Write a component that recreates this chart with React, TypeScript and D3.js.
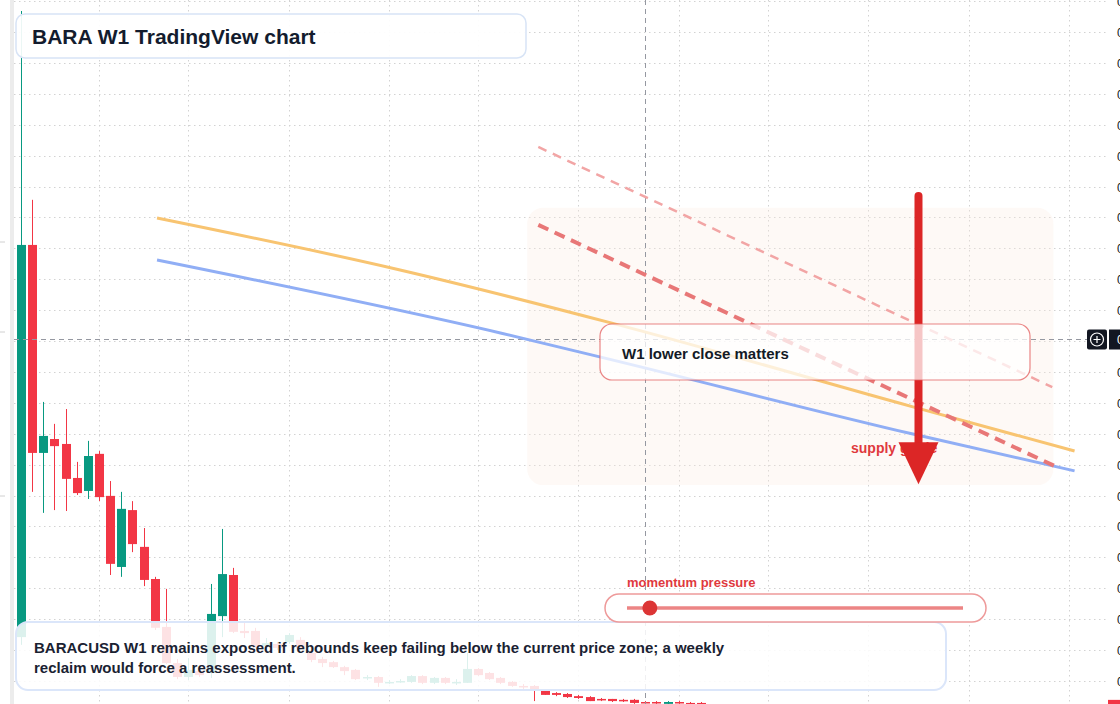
import React, { useEffect, useRef } from "react";
import * as d3 from "d3";

const W = 1120;
const H = 704;

// weekly BARACUSD candles, bar 0 is the first bar on screen
const opens = [
  0.01142, 0.02411, 0.01738, 0.01783, 0.01767, 0.01657, 0.01615, 0.01735, 0.01599, 0.01369,
  0.01553, 0.01434, 0.0133, 0.01175, 0.01058, 0.01013, 0.01032, 0.01026, 0.0121, 0.01343,
  0.01162, 0.01162, 0.01113, 0.0112, 0.01126, 0.01133, 0.01091, 0.01071, 0.01061, 0.01045,
  0.01036, 0.0101, 0.01013, 0.00994, 0.00997, 0.00997, 0.01016, 0.00994, 0.0101, 0.00994,
  0.00994, 0.01039, 0.01026, 0.0101, 0.00997, 0.00984, 0.00984, 0.00971, 0.00961, 0.00958,
  0.00951, 0.00948, 0.00942, 0.00942, 0.00939, 0.00939, 0.00932, 0.00932, 0.00926, 0.00932,
  0.00929, 0.00929,
];
const highs = [
  0.03168, 0.02557, 0.01903, 0.01832, 0.0188, 0.01709, 0.01777, 0.01744, 0.01647, 0.01612,
  0.01582, 0.01495, 0.01337, 0.01298, 0.01071, 0.01074, 0.01039, 0.01314, 0.01492, 0.01366,
  0.01188, 0.01172, 0.01139, 0.01126, 0.01155, 0.01142, 0.01097, 0.01078, 0.01065, 0.01049,
  0.01039, 0.01019, 0.01016, 0.01003, 0.01006, 0.01019, 0.01019, 0.01013, 0.01013, 0.01006,
  0.01091, 0.01042, 0.01029, 0.01013, 0.01, 0.0099, 0.00987, 0.00971, 0.00964, 0.00961,
  0.00955, 0.00951, 0.00945, 0.00942, 0.00942, 0.00942, 0.00935, 0.00935, 0.00935, 0.00935,
  0.00932, 0.00932,
];
const lows = [
  0.01117, 0.01612, 0.01544, 0.01553, 0.0155, 0.01602, 0.01589, 0.01582, 0.01343, 0.01337,
  0.01417, 0.01307, 0.01165, 0.01055, 0.01006, 0.01003, 0.01013, 0.0101, 0.01142, 0.01155,
  0.01139, 0.01107, 0.01107, 0.011, 0.0112, 0.011, 0.01061, 0.01045, 0.01042, 0.01019,
  0.01003, 0.01003, 0.00981, 0.0099, 0.00994, 0.00994, 0.0099, 0.0099, 0.0099, 0.00987,
  0.00994, 0.01016, 0.01003, 0.0099, 0.00981, 0.00971, 0.00935, 0.00955, 0.00951, 0.00945,
  0.00942, 0.00935, 0.00935, 0.00932, 0.00932, 0.00926, 0.00926, 0.00926, 0.00922, 0.00926,
  0.00922, 0.00922,
];
const closes = [
  0.02411, 0.01738, 0.01793, 0.0176, 0.01654, 0.01608, 0.01728, 0.01595, 0.01379, 0.01557,
  0.01443, 0.01327, 0.01172, 0.01058, 0.01013, 0.01036, 0.01019, 0.01217, 0.01346, 0.01159,
  0.01155, 0.01113, 0.01123, 0.01107, 0.01149, 0.01107, 0.01068, 0.01058, 0.01045, 0.01032,
  0.01006, 0.01013, 0.00994, 0.00997, 0.01, 0.01016, 0.00994, 0.0101, 0.00994, 0.00997,
  0.01039, 0.01019, 0.01006, 0.00994, 0.00984, 0.00981, 0.00971, 0.00955, 0.00955, 0.00948,
  0.00945, 0.00935, 0.00939, 0.00935, 0.00935, 0.00929, 0.00929, 0.00929, 0.00932, 0.00929,
  0.00926, 0.00926,
];

// price grid and the bars where a new (every second) month starts
const priceTicks = [
  0.009, 0.01, 0.011, 0.012, 0.013, 0.014, 0.015, 0.016, 0.017, 0.018, 0.019, 0.02,
  0.021, 0.022, 0.023, 0.024, 0.025, 0.026, 0.027, 0.028, 0.029, 0.03, 0.031, 0.032,
];
const monthTickBars = [7, 15, 24, 33, 41, 50, 59, 67, 76, 85, 94];

// projected averages (bar index -> price)
const orangeBars = [12.2, 34, 53, 80, 94.5];
const orangeVals = [0.02498, 0.0233, 0.02158, 0.01887, 0.01744];
const blueBars = [12.2, 43, 52, 80, 94.5];
const blueVals = [0.02362, 0.02126, 0.02048, 0.01799, 0.0168];

// falling resistance lines
const resistBars = [46.4, 92.7];
const resistVals = [0.02476, 0.01696];
const upperBars = [46.4, 92.5];
const upperVals = [0.02728, 0.01951];

// supply zone and the bearish arrow
const zoneBars = [45.4, 92.6];
const zoneVals = [0.02531, 0.01634];
const arrowBar = 80.5;
const arrowVals = [0.02569, 0.01637];

const crossBar = 56;
const crossPrice = 0.02107;
const momentum = 0.068;

function App() {
  const ref = useRef<SVGSVGElement>(null);

  useEffect(() => {
    const svg = d3.select(ref.current);
    svg.selectAll("*").remove();
    const font = "'Liberation Sans', Arial, Helvetica, sans-serif";

    const x = d3.scaleLinear().domain([0, 94]).range([21, 1069]);
    const y = d3.scaleLinear().domain([0.01, 0.031]).range([681, 32]);
    const bw = 9;

    svg.append("rect").attr("width", W).attr("height", H).attr("fill", "#ffffff");
    svg.append("rect").attr("x", 10).attr("y", 0).attr("width", 4).attr("height", H).attr("fill", "#ececec");
    svg.append("g").attr("stroke", "#d0d0d0")
      .selectAll("line").data([242, 332, 496]).join("line")
      .attr("x1", 0).attr("x2", 5).attr("y1", d => d).attr("y2", d => d);

    // grid
    const grid = svg.append("g").attr("stroke", "#d2d2d2").attr("stroke-dasharray", "1.5 3.5");
    grid.selectAll("line.h").data(priceTicks).join("line").attr("class", "h")
      .attr("x1", 14).attr("x2", 1107)
      .attr("y1", d => Math.round(y(d)) + 0.5).attr("y2", d => Math.round(y(d)) + 0.5);
    grid.selectAll("line.v").data(monthTickBars).join("line").attr("class", "v")
      .attr("x1", d => Math.round(x(d)) + 0.5).attr("x2", d => Math.round(x(d)) + 0.5)
      .attr("y1", 0).attr("y2", H);

    // supply zone background
    svg.append("rect")
      .attr("x", x(zoneBars[0])).attr("y", y(zoneVals[0]))
      .attr("width", x(zoneBars[1]) - x(zoneBars[0])).attr("height", y(zoneVals[1]) - y(zoneVals[0]))
      .attr("rx", 16).attr("fill", "#fbece0").attr("opacity", 0.3);

    // candles
    const candles = opens.map((o, i) => ({ i, o, h: highs[i], l: lows[i], c: closes[i] }));
    const cg = svg.append("g");
    const col = (d: any) => (d.c >= d.o ? "#089981" : "#f23645");
    cg.selectAll("line").data(candles).join("line")
      .attr("x1", d => Math.round(x(d.i)) + 0.5).attr("x2", d => Math.round(x(d.i)) + 0.5)
      .attr("y1", d => y(d.h)).attr("y2", d => y(d.l))
      .attr("stroke", col).attr("stroke-width", 1);
    cg.selectAll("rect").data(candles).join("rect")
      .attr("x", d => Math.round(x(d.i)) - 4)
      .attr("y", d => y(Math.max(d.o, d.c)))
      .attr("width", bw)
      .attr("height", d => Math.max(1.5, Math.abs(y(d.o) - y(d.c))))
      .attr("fill", col);

    // crosshair
    const ch = svg.append("g").attr("stroke", "#9598a1").attr("stroke-dasharray", "5 4").attr("stroke-width", 1);
    ch.append("line").attr("x1", Math.round(x(crossBar)) + 0.5).attr("x2", Math.round(x(crossBar)) + 0.5).attr("y1", 0).attr("y2", H);
    ch.append("line").attr("x1", 14).attr("x2", 1087).attr("y1", Math.round(y(crossPrice)) + 0.5).attr("y2", Math.round(y(crossPrice)) + 0.5);

    // averages
    const curve = (bars: number[], vals: number[]) =>
      d3.line<number>().x((_, i) => x(bars[i])).y(d => y(d)).curve(d3.curveMonotoneX)(vals);
    svg.append("path").attr("d", curve(orangeBars, orangeVals)).attr("fill", "none")
      .attr("stroke", "#f8c471").attr("stroke-width", 3);
    svg.append("path").attr("d", curve(blueBars, blueVals)).attr("fill", "none")
      .attr("stroke", "#90aef5").attr("stroke-width", 3);

    // resistance lines
    svg.append("path").attr("d", curve(upperBars, upperVals)).attr("fill", "none")
      .attr("stroke", "#f2a5a5").attr("stroke-width", 2.5).attr("stroke-dasharray", "9 7");
    svg.append("path").attr("d", curve(resistBars, resistVals)).attr("fill", "none")
      .attr("stroke", "#e87777").attr("stroke-width", 4).attr("stroke-dasharray", "11 7");

    // label under the arrow head (mostly hidden by it)
    svg.append("text").attr("x", 851).attr("y", 453).text("supply guide")
      .attr("font-family", font).attr("font-weight", 700).attr("font-size", 14).attr("fill", "#e0393e");

    // arrow
    const ax = x(arrowBar);
    const y1 = y(arrowVals[0]);
    const tip = y(arrowVals[1]);
    svg.append("line").attr("x1", ax).attr("x2", ax).attr("y1", y1).attr("y2", tip - 40)
      .attr("stroke", "#dc2626").attr("stroke-width", 8).attr("stroke-linecap", "round");
    svg.append("path")
      .attr("d", `M${ax - 20},${tip - 42}L${ax + 20},${tip - 42}L${ax},${tip}Z`)
      .attr("fill", "#dc2626");

    // annotation box
    svg.append("rect").attr("x", 600).attr("y", 324).attr("width", 430).attr("height", 56).attr("rx", 12)
      .attr("fill", "#ffffff").attr("fill-opacity", 0.74)
      .attr("stroke", "#e35d5d").attr("stroke-opacity", 0.75).attr("stroke-width", 1.2);
    svg.append("text").attr("x", 622).attr("y", 359).text("W1 lower close matters")
      .attr("font-family", font).attr("font-weight", 700).attr("font-size", 15).attr("fill", "#131a26");

    // title
    svg.append("rect").attr("x", 16).attr("y", 14).attr("width", 510).attr("height", 44).attr("rx", 9)
      .attr("fill", "#ffffff").attr("fill-opacity", 0.92).attr("stroke", "#d8e4f6").attr("stroke-width", 1.5);
    svg.append("text").attr("x", 32).attr("y", 43.5).text("BARA W1 TradingView chart")
      .attr("font-family", font).attr("font-weight", 700).attr("font-size", 21).attr("fill", "#131c2e");

    // bottom note
    svg.append("rect").attr("x", 16).attr("y", 622).attr("width", 930).attr("height", 68).attr("rx", 12)
      .attr("fill", "#ffffff").attr("fill-opacity", 0.86).attr("stroke", "#dbe6fa").attr("stroke-width", 2);
    const note = svg.append("text").attr("font-family", font).attr("font-weight", 700)
      .attr("font-size", 15).attr("fill", "#1a2232");
    note.append("tspan").attr("x", 34).attr("y", 653)
      .text("BARACUSD W1 remains exposed if rebounds keep failing below the current price zone; a weekly");
    note.append("tspan").attr("x", 34).attr("y", 673).text("reclaim would force a reassessment.");

    // momentum slider
    svg.append("text").attr("x", 627).attr("y", 587).text("momentum pressure")
      .attr("font-family", font).attr("font-weight", 700).attr("font-size", 13).attr("fill", "#e0393e");
    svg.append("rect").attr("x", 605).attr("y", 594).attr("width", 381).attr("height", 28).attr("rx", 14)
      .attr("fill", "#ffffff").attr("stroke", "#ee9a9a").attr("stroke-width", 1.5);
    const sx = d3.scaleLinear().domain([0, 1]).range([627, 963]);
    svg.append("line").attr("x1", sx(0)).attr("x2", sx(1)).attr("y1", 608).attr("y2", 608)
      .attr("stroke", "#ec8585").attr("stroke-width", 3.5);
    svg.append("circle").attr("cx", sx(momentum)).attr("cy", 608).attr("r", 7.5).attr("fill", "#dc3535");

    // price axis (labels run past the right edge, as in the screenshot)
    svg.append("g").selectAll("text").data(priceTicks).join("text")
      .attr("x", 1117).attr("y", d => Math.round(y(d)) + 4.5)
      .text(d => d3.format(".4f")(d))
      .attr("font-family", font).attr("font-size", 12).attr("fill", "#131722");

    // last price tag
    const last = closes[closes.length - 1];
    svg.append("rect").attr("x", 1108).attr("y", y(last) - 4).attr("width", 20).attr("height", 18).attr("fill", "#f23645");

    // crosshair price tag
    const cy = Math.round(y(crossPrice)) + 0.5;
    svg.append("rect").attr("x", 1087).attr("y", cy - 10).attr("width", 20).attr("height", 20).attr("rx", 2).attr("fill", "#131722");
    svg.append("circle").attr("cx", 1097).attr("cy", cy).attr("r", 6.5).attr("fill", "none").attr("stroke", "#ffffff").attr("stroke-width", 1.2);
    svg.append("path").attr("d", `M1097,${cy - 3.5}V${cy + 3.5}M1093.5,${cy}H1100.5`).attr("stroke", "#ffffff").attr("stroke-width", 1.2);
    svg.append("rect").attr("x", 1109).attr("y", cy - 10).attr("width", 30).attr("height", 20).attr("fill", "#131722");
    svg.append("text").attr("x", 1117).attr("y", cy + 4.5).text(d3.format(".4f")(crossPrice))
      .attr("font-family", font).attr("font-size", 12).attr("fill", "#ffffff");
  }, []);

  return (
    <svg ref={ref} width={W} height={H}
      style={{ position: "absolute", left: 0, top: 0, display: "block" }} />
  );
}

export default App;
